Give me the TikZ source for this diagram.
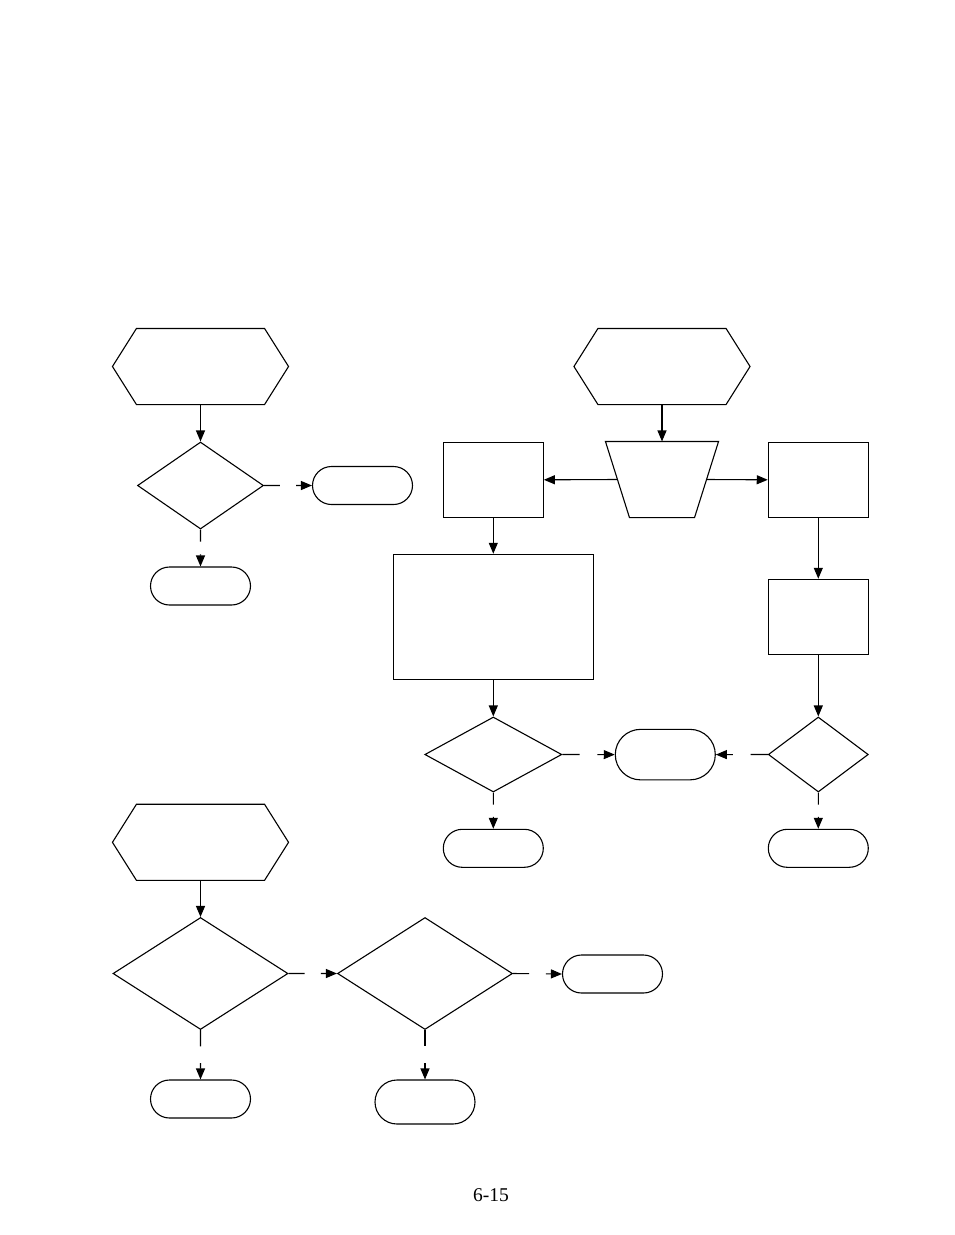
\documentclass[tikz,border=0pt]{standalone}
\usepackage{fontspec}
\setmainfont{Liberation Serif}
\usepackage{tikz}
\usetikzlibrary{calc}
\usetikzlibrary{arrows.meta}
\usetikzlibrary{shapes.geometric,shapes.misc}
\def\gapline#1#2{
	\draw (#1)--($(#1)!0.33!(#2)$);
	\draw[flow] ($(#1)!0.67!(#2)$)--(#2);
	}

\begin{document}
\begin{tikzpicture}[x=1pt,y=-1pt,line width=1.1pt,
	flow/.style={-{Triangle[length=11pt,width=9pt]}},
	hexbox/.style={minimum width=175pt,minimum height=75pt,inner sep=0pt},
	procbox/.style={draw,rectangle,minimum width=100pt,minimum height=75pt,inner sep=0pt},
	decbox/.style={draw,diamond,inner sep=0pt},
	endbox/.style={draw,rounded rectangle,minimum width=100pt,minimum height=38pt,inner sep=0pt},
	splitbox/.style={minimum width=112pt,minimum height=75pt,inner sep=0pt}]
					\useasboundingbox (0,0) rectangle (954,1235);
					% first chart
					\node[hexbox] (hexA) at (200.5,366.5) {};
					\node[decbox,minimum width=126pt,minimum height=87pt] (decA) at (200.5,485.5) {};
					\node[endbox] (endA) at (362.5,485.5) {};
					\node[endbox] (endAd) at (200.5,586) {};
					% second chart
					\node[hexbox] (hexB) at (662,366.5) {};
					\node[splitbox] (split) at (662,479.5) {};
					\coordinate (splitL) at ([xshift=12pt]split.west);
					\coordinate (splitR) at ([xshift=-12pt]split.east);
					\node[procbox] (boxL) at (493.3,479.8) {};
					\node[procbox] (boxR) at (818.3,479.8) {};
					\node[procbox,minimum width=200pt,minimum height=125pt] (boxBig) at (493.3,616.8) {};
					\node[procbox] (boxRd) at (818.3,616.8) {};
					\node[decbox,minimum width=137pt,minimum height=75pt] (decB) at (493.3,754.5) {};
					\node[decbox,minimum width=100pt,minimum height=75pt] (decC) at (818.3,754.5) {};
					\node[endbox,minimum height=50.5pt] (endBC) at (665.3,754.6) {};
					\node[endbox] (endB) at (493.3,848.3) {};
					\node[endbox] (endC) at (818.3,848.3) {};
					% third chart
					\node[hexbox] (hexC) at (200.5,842.3) {};
					\node[decbox,minimum width=175pt,minimum height=112pt] (decD) at (200.5,973.5) {};
					\node[decbox,minimum width=175pt,minimum height=112pt] (decE) at (425,973.5) {};
					\node[endbox] (endE) at (612.5,974) {};
					\node[endbox] (endD) at (200.5,1099) {};
					\node[endbox,minimum height=44pt] (endEd) at (425,1102) {};
					\foreach \h in {hexA,hexB,hexC}
						\draw (\h.west)--([xshift=24pt]\h.north west)--([xshift=-24pt]\h.north east)
							--(\h.east)--([xshift=-24pt]\h.south east)--([xshift=24pt]\h.south west)--cycle;
					\draw (split.north west)--(split.north east)--([xshift=-24pt]split.south east)
						--([xshift=24pt]split.south west)--cycle;
					% connectors
					\draw[flow] (hexA.south)--(decA.north);
					\gapline{decA.east}{endA.west}
					\gapline{decA.south}{endAd.north}
					\draw[flow] (hexB.south)--(split.north);
					\draw[flow] (splitL)--(boxL.east);
					\draw[flow] (splitR)--(boxR.west);
					\draw[flow] (boxL.south)--(boxBig.north);
					\draw[flow] (boxR.south)--(boxRd.north);
					\draw[flow] (boxBig.south)--(decB.north);
					\draw[flow] (boxRd.south)--(decC.north);
					\gapline{decB.east}{endBC.west}
					\gapline{decC.west}{endBC.east}
					\gapline{decB.south}{endB.north}
					\gapline{decC.south}{endC.north}
					\draw[flow] (hexC.south)--(decD.north);
					\gapline{decD.east}{decE.west}
					\gapline{decE.east}{endE.west}
					\gapline{decD.south}{endD.north}
					\gapline{decE.south}{endEd.north}
					\node[font=\fontsize{19.5}{22}\selectfont] (page) at (491,1195) {6-15};
				\end{tikzpicture}
\end{document}
